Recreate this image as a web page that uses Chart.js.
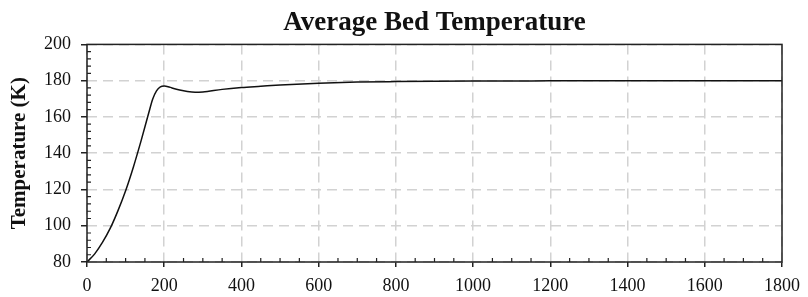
<!DOCTYPE html>
<html>
<head>
<meta charset="utf-8">
<script src="https://cdn.jsdelivr.net/npm/chart.js@4/dist/chart.umd.min.js"></script>
<style>
  html, body { margin: 0; padding: 0; background: #fff; }
  #wrap { width: 808px; height: 297px; }
</style>
</head>
<body>
<div id="wrap"><canvas id="grafico"></canvas></div>
<script>
// datos
const tiempo = [0, 20, 40, 60, 80, 100, 120, 140, 160, 170, 180, 190, 200, 210, 220, 240, 260, 280, 300, 350, 400, 450, 500, 600, 700, 800, 900, 1000, 1200, 1400, 1600, 1800];
const temperatura = [80, 84.5, 90.8, 98.5, 108.2, 119.3, 132.3, 146.8, 162.3, 169.8, 174.4, 176.6, 177, 176.7, 176, 174.8, 174, 173.6, 173.8, 175.2, 176.2, 176.9, 177.6, 178.6, 179.2, 179.5, 179.7, 179.8, 179.9, 180, 180, 180];
const ticksX = [0, 200, 400, 600, 800, 1000, 1200, 1400, 1600, 1800];
const ticksY = [80, 100, 120, 140, 160, 180, 200];

const fuente = "'Liberation Serif', 'Times New Roman', serif";

// marco y marcas menores
const marco = {
  id: 'marco',
  afterDraw(chart) {
    const { ctx, chartArea: a, scales } = chart;
    ctx.save();
    ctx.strokeStyle = '#222';
    ctx.lineWidth = 1.5;
    ctx.strokeRect(a.left, a.top, a.right - a.left, a.bottom - a.top);
    ctx.lineWidth = 1.2;
    ctx.beginPath();
    for (let v = 0; v <= 1800; v += 50) {
      if (v % 200 === 0) continue;
      const px = scales.x.getPixelForValue(v);
      ctx.moveTo(px, a.bottom);
      ctx.lineTo(px, a.bottom - 4);
    }
    for (let v = 80; v <= 200; v += 4) {
      if (v % 20 === 0) continue;
      const py = scales.y.getPixelForValue(v);
      ctx.moveTo(a.left, py);
      ctx.lineTo(a.left + 4, py);
    }
    ctx.stroke();
    ctx.restore();
  }
};

new Chart(document.getElementById('grafico').getContext('2d'), {
  type: 'line',
  data: {
    datasets: [{
      label: 'Average Bed Temperature',
      data: tiempo.map((t, i) => ({ x: t, y: temperatura[i] })),
      borderColor: '#111',
      borderWidth: 1.5,
      pointRadius: 0,
      fill: false,
      cubicInterpolationMode: 'monotone'
    }]
  },
  options: {
    responsive: true,
    maintainAspectRatio: false,
    animation: false,
    layout: { padding: { left: 0, right: 26, top: 0, bottom: 0 } },
    plugins: {
      legend: { display: false },
      tooltip: { enabled: false },
      title: {
        display: true,
        fullSize: false,
        text: 'Average Bed Temperature',
        color: '#111',
        font: { family: fuente, size: 27, weight: 'bold' },
        padding: { top: 7, bottom: 5 }
      }
    },
    scales: {
      x: {
        type: 'linear',
        min: 0,
        max: 1800,
        afterBuildTicks: s => { s.ticks = ticksX.map(v => ({ value: v })); },
        afterFit: s => { s.height = 35; },
        border: { display: false, dash: [10, 6] },
        grid: {
          color: '#d2d2d2',
          tickBorderDash: [],
          tickColor: '#222',
          tickLength: 5,
          lineWidth: 1.5
        },
        ticks: {
          color: '#111',
          padding: 8,
          maxRotation: 0,
          font: { family: fuente, size: 18 },
          callback: v => String(v)
        }
      },
      y: {
        min: 80,
        max: 200,
        afterBuildTicks: s => { s.ticks = ticksY.map(v => ({ value: v })); },
        afterFit: s => { s.width = 87; },
        border: { display: false, dash: [10, 6] },
        title: {
          display: true,
          text: 'Temperature (K)',
          color: '#111',
          font: { family: fuente, size: 21, weight: 'bold' },
          padding: { top: 7, bottom: 4 }
        },
        grid: {
          color: '#d2d2d2',
          tickBorderDash: [],
          tickColor: '#222',
          tickLength: 6,
          lineWidth: 1.5
        },
        ticks: {
          color: '#111',
          padding: 10,
          font: { family: fuente, size: 18 },
          callback: v => String(v)
        }
      }
    }
  },
  plugins: [marco]
});
</script>
</body>
</html>
